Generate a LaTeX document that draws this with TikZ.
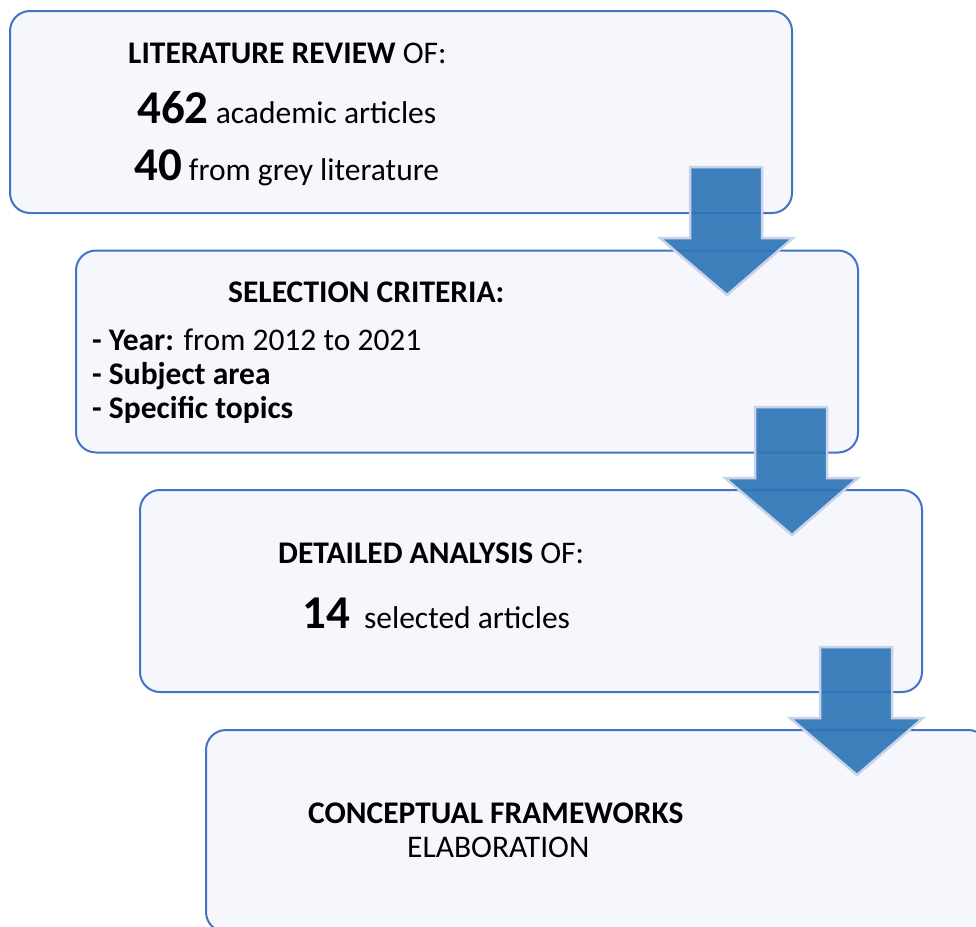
\documentclass[tikz,border=0pt]{standalone}
\usepackage{fontspec}
\setmainfont{Carlito}
\usepackage{tikz}
\usetikzlibrary{positioning}

\definecolor{boxline}{RGB}{68,114,196}
\definecolor{boxfill}{RGB}{245,247,252}
\definecolor{arrowfill}{RGB}{46,117,182}
\definecolor{arrowline}{RGB}{200,210,235}

\newcommand{\bignum}[1]{{\fontsize{47}{50}\selectfont\bfseries #1}}

\tikzset{
	stage box/.style={draw=boxline, fill=boxfill, line width=2pt, rounded corners=20pt,
		minimum width=782pt, minimum height=202pt, inner sep=0pt},
	stage text/.style={anchor=base west, inner sep=0pt, font=\fontsize{31.5}{36}\selectfont},
	flow arrow/.style={fill=arrowfill, fill opacity=0.92, draw=arrowline, line width=2.5pt, line join=miter},
}

\begin{document}
\begin{tikzpicture}[x=1pt, y=-1pt]
		\useasboundingbox (0, 0) rectangle (976, 926);
		\clip (0, 0) rectangle (976, 926);
		% stages
		\node[stage box] (review) at (401, 112) {};
		\node[stage box] (criteria) at (467, 351.5) {};
		\node[stage box] (analysis) at (531, 591) {};
		\node[stage box] (frameworks) at (597, 831) {};
		% texts
		\node[stage text] (review title) at (128, 63) {\textbf{LITERATURE REVIEW} OF:};
		\node[stage text] (review academic) at (137, 123) {\bignum{462} academic articles};
		\node[stage text] (review grey) at (134, 180) {\bignum{40} from grey literature};
		\node[stage text] (criteria title) at (228, 302) {\textbf{SELECTION CRITERIA:}};
		\node[stage text] (criteria year) at (92, 350) {\textbf{- Year:} from 2012 to 2021};
		\node[stage text] (criteria subject) at (92, 384) {\textbf{- Subject area}};
		\node[stage text] (criteria topics) at (92, 418) {\textbf{- Specific topics}};
		\node[stage text] (analysis title) at (278, 563) {\textbf{DETAILED ANALYSIS} OF:};
		\node[stage text] (analysis count) at (302, 628) {\bignum{14}\ \ selected articles};
		\node[stage text] (frameworks title) at (308, 823) {\textbf{CONCEPTUAL FRAMEWORKS}};
		\node[stage text] (frameworks sub) at (407, 857) {ELABORATION};
		% block arrows
		\draw[flow arrow] (690, 167) -- (762, 167) -- (762, 238) -- (793, 238) -- (727, 295) -- (660, 238) -- (690, 238) -- cycle;
		\draw[flow arrow] (755, 407) -- (827, 407) -- (827, 478) -- (858, 478) -- (792, 535) -- (725, 478) -- (755, 478) -- cycle;
		\draw[flow arrow] (820, 647) -- (892, 647) -- (892, 718) -- (923, 718) -- (857, 775) -- (790, 718) -- (820, 718) -- cycle;
	\end{tikzpicture}
\end{document}
